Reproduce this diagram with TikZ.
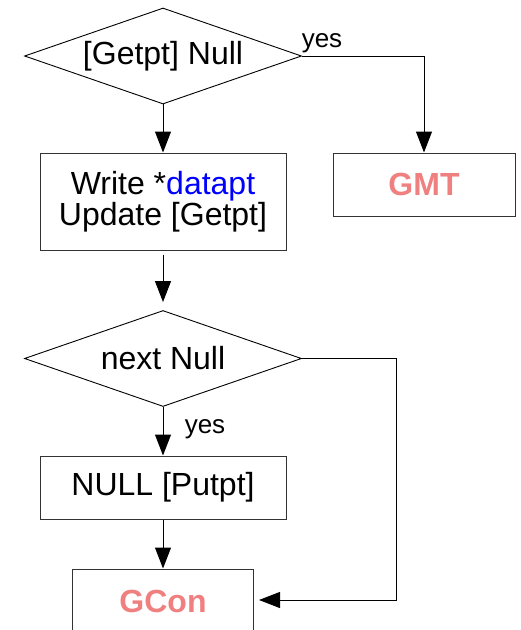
\documentclass[tikz,border=0pt]{standalone}
\usepackage{fontspec}
\setmainfont{Liberation Sans}
\usetikzlibrary{shapes.geometric}
\usetikzlibrary{arrows.meta}

\definecolor{gconred}{RGB}{240,128,128}
\newcommand{\flowtext}{\fontsize{32}{31}\selectfont}
\newcommand{\yestext}{\fontsize{26}{28}\selectfont}

\tikzset{
    decision/.style={diamond, draw, line width=0.9pt, inner sep=0pt, aspect=2.88,
        minimum width=277pt, minimum height=96pt, font=\flowtext},
    procbox/.style={rectangle, draw=black!80, line width=1pt, inner sep=0pt,
        align=center, font=\flowtext},
    exitbox/.style={procbox, text=gconred, font=\flowtext\bfseries},
    flow/.style={-{Triangle[length=21pt,width=16pt]}, line width=1pt},
    yeslabel/.style={anchor=base, inner sep=0pt, font=\yestext},
}

\begin{document}
\begin{tikzpicture}[x=1pt,y=-1pt]
        \useasboundingbox (0,0) rectangle (521,630);
        \clip (0,0) rectangle (521,630);

        % first test
        \node[decision] (getnull) at (163,56) {[Getpt] Null};
        \node[procbox, minimum width=246pt, minimum height=97pt] (write) at (163,201.5)
            {Write *\textcolor{blue}{datapt}\\Update [Getpt]};
        \node[exitbox, minimum width=182pt, minimum height=63pt] (gmt) at (424,184.5) {GMT};

        % second test
        \node[decision] (nextnull) at (163,358.5) {next Null};
        \node[procbox, minimum width=246pt, minimum height=63pt] (putnull) at (163,487.5) {NULL [Putpt]};
        \node[exitbox, minimum width=181pt, minimum height=64pt] (gcon) at (163,601) {GCon};

        \node[yeslabel] (yesgmt) at (322,47) {yes};
        \node[yeslabel] (yesput) at (205,433) {yes};

        \coordinate (back) at (396,600);

        \draw[flow] (getnull) -- (write);
        \draw[flow] (getnull.east) -| (gmt.north);
        \draw[flow, shorten <=4pt, shorten >=8pt] (write) -- (nextnull);
        \draw[flow] (nextnull) -- (putnull);
        \draw[flow] (putnull) -- (gcon);
        \draw[flow, shorten >=5pt] (nextnull.east) -| (back) -- (back -| gcon.east);
    \end{tikzpicture}
\end{document}
